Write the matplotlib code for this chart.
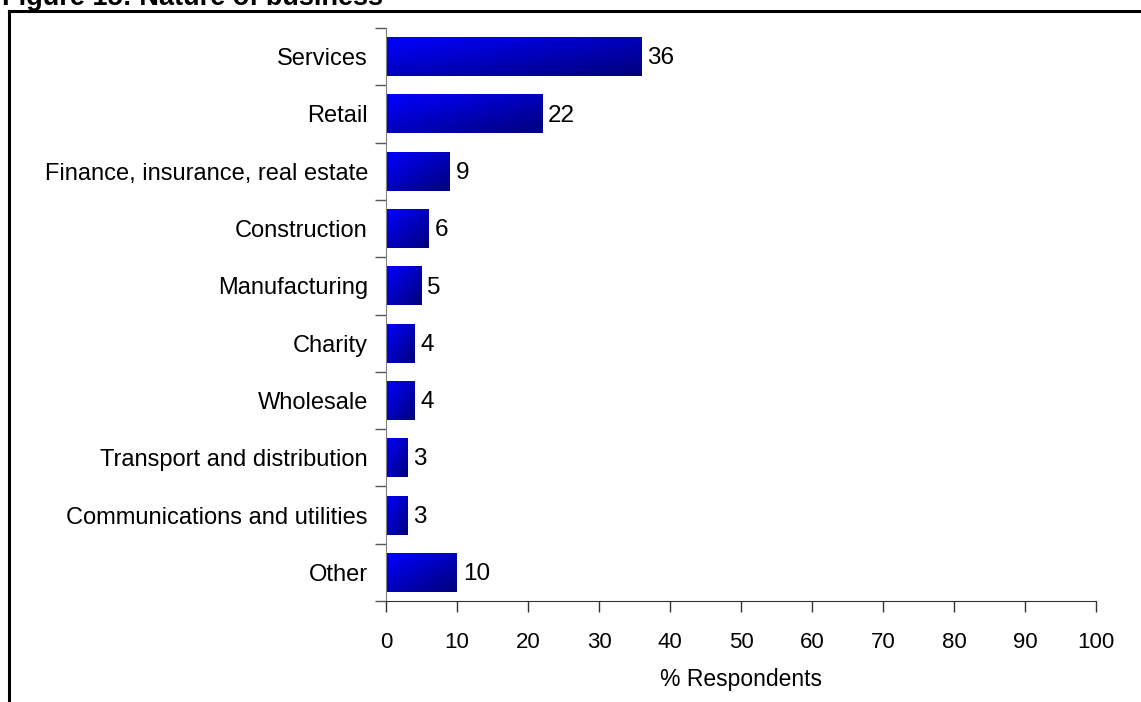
import numpy as np
import matplotlib.pyplot as plt
from matplotlib.lines import Line2D

plt.rcParams['font.family'] = ['Liberation Sans', 'DejaVu Sans']

# Survey results: nature of business
categories = ["Services", "Retail", "Finance, insurance, real estate", "Construction",
              "Manufacturing", "Charity", "Wholesale", "Transport and distribution",
              "Communications and utilities", "Other"]
percent = [36, 22, 9, 6, 5, 4, 4, 3, 3, 10]
xticks = list(range(0, 101, 10))

fig = plt.figure(figsize=(11.41, 7.02), dpi=100)
ax = fig.add_axes([386 / 1141, 1 - 601 / 702, (1096 - 386) / 1141, (601 - 28) / 702])

y = np.arange(len(categories))
bars = ax.barh(y, percent, height=0.68, color='none', edgecolor='none')

# diagonal blue -> navy fill for each bar
gx, gy = np.meshgrid(np.linspace(0, 1, 64), np.linspace(0, 1, 64))
t = (gx + gy) / 2
grad = np.zeros((64, 64, 3))
grad[..., 2] = 1.0 - 0.52 * t
for b in bars:
    x0, y0 = b.get_x(), b.get_y()
    w, h = b.get_width(), b.get_height()
    im = ax.imshow(grad, extent=(x0, x0 + w, y0 + h, y0), aspect='auto',
                   interpolation='bilinear', zorder=2)
    im.set_clip_path(b)

for yi, v in zip(y, percent):
    ax.text(v + 0.8, yi + 0.03, str(v), va='center', ha='left', fontsize=17.5, color='black')

ax.set_xlim(0, 100)
ax.set_ylim(len(categories) - 0.5, -0.5)
ax.set_xticks(xticks)
ax.set_xticklabels([str(v) for v in xticks], fontsize=16)
ax.set_yticks(y)
ax.set_yticklabels(categories, fontsize=17)
ax.tick_params(axis='y', length=0, pad=13)
ax.set_yticks(np.arange(-0.5, len(categories)), minor=True)
ax.tick_params(axis='y', which='minor', length=8, width=1, color='#555555')
ax.tick_params(axis='x', length=8, width=1, color='#333333', pad=14)
ax.set_xlabel("% Respondents", fontsize=16.5, labelpad=11)

for s in ['top', 'right']:
    ax.spines[s].set_visible(False)
ax.spines['left'].set_color('#808080')
ax.spines['bottom'].set_color('#333333')

# outer frame and figure title
fig.add_artist(Line2D([8.5 / 1141, 1], [1 - 11 / 702, 1 - 11 / 702],
                      transform=fig.transFigure, color='black', lw=2.2))
fig.add_artist(Line2D([8.5 / 1141, 8.5 / 1141], [0, 1 - 11 / 702],
                      transform=fig.transFigure, color='black', lw=2.2))
fig.text(2 / 1141, 1 - 5 / 702, "Figure 15: Nature of business", fontsize=19.5,
         fontweight='bold', ha='left', va='baseline')

fig.savefig("out.png", dpi=100)
